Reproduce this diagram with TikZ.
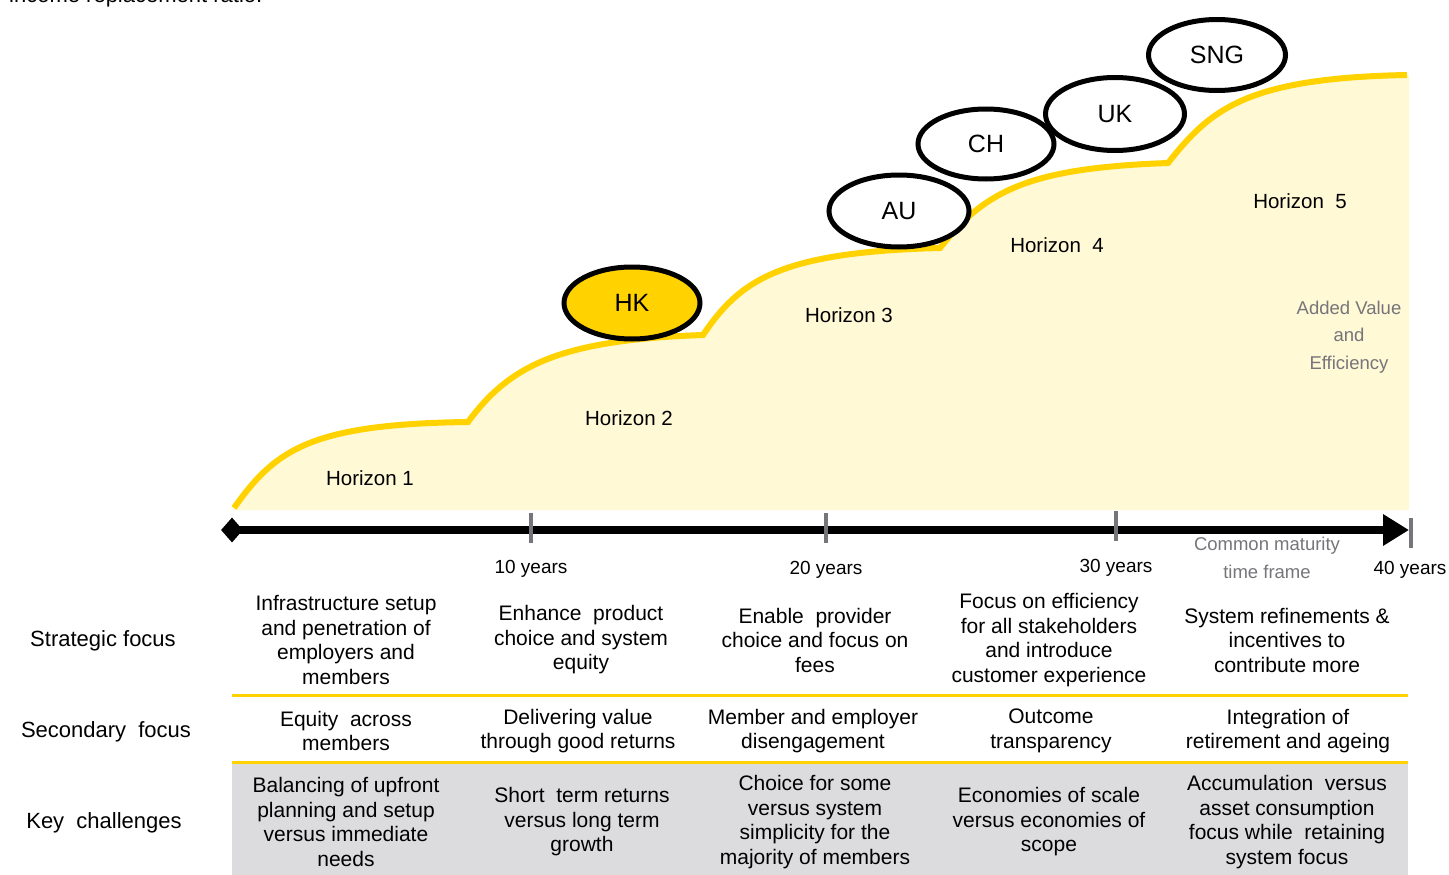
\documentclass[tikz,border=0pt]{standalone}
\usepackage{fontspec}
\setmainfont{Liberation Sans}
\usetikzlibrary{shapes.geometric,arrows.meta}
\definecolor{eyyel}{HTML}{FFD200}
\definecolor{lightyel}{HTML}{FFF9D6}
\definecolor{eygray}{HTML}{75757A}
\definecolor{tblgray}{HTML}{DCDCDE}
\newcommand\fsz[1]{\fontsize{#1}{24.5}\selectfont}
\newcommand\fszz[2]{\fontsize{#1}{#2}\selectfont}
\begin{document}
\begin{tikzpicture}[x=1pt,y=-1pt,
  cell/.style={align=center, inner sep=0, font=\fsz{21}},
  rowlab/.style={inner sep=0, font=\fsz{22}},
  hlab/.style={inner sep=0, font=\fsz{20.5}},
  tickmark/.style={draw=eygray, line width=4pt},
  yrs/.style={inner sep=0, font=\fsz{19}},
  country/.style={ellipse, draw=black, line width=5pt, fill=white, inner sep=0, font=\fsz{25}},
  graytxt/.style={inner sep=0, text=eygray, align=center},
  tblrule/.style={draw=eyyel, line width=3pt}]
\useasboundingbox (0,0) rectangle (1449,875);
\clip (0,0) rectangle (1449,875);

% cut-off caption at the top
\node[anchor=base west, inner sep=0, font=\fsz{22}] (cap) at (9,3) {income replacement ratio.};

% area under the curve
\fill[lightyel] (232,510) .. controls (275,450) and (310,424) .. (468,422)
  .. controls (510,365) and (560,340) .. (703,335)
  .. controls (740,280) and (780,252) .. (940,248)
  .. controls (985,190) and (1030,168) .. (1168,163)
  .. controls (1210,110) and (1245,78) .. (1407,75)
  -- (1409,75) -- (1409,510) -- cycle;
% curve
\draw[eyyel, line width=6pt] (234,508) .. controls (275,450) and (310,424) .. (468,422)
  .. controls (510,365) and (560,340) .. (703,335)
  .. controls (740,280) and (780,252) .. (940,248)
  .. controls (985,190) and (1030,168) .. (1168,163)
  .. controls (1210,110) and (1245,78) .. (1407,75);

% country ellipses
\node[country, fill=eyyel, minimum width=136pt, minimum height=72pt] (hk) at (632,303) {HK};
\node[country, minimum width=140pt, minimum height=72pt] (au) at (899,211) {AU};
\node[country, minimum width=136pt, minimum height=70pt] (ch) at (986,144) {CH};
\node[country, minimum width=139pt, minimum height=73pt] (uk) at (1115,114) {UK};
\node[country, minimum width=137pt, minimum height=71pt] (sng) at (1217,55) {SNG};

% horizon labels
\node[hlab] (h1) at (370,478) {Horizon 1};
\node[hlab] (h2) at (629,418) {Horizon 2};
\node[hlab] (h3) at (849,315) {Horizon 3};
\node[hlab] (h4) at (1057,245) {Horizon\ \ 4};
\node[hlab] (h5) at (1300,201) {Horizon\ \ 5};
\node[graytxt, font={\fszz{18.5}{27.5}}] (av) at (1349,337) {Added Value\\and\\Efficiency};

% time axis
\node[diamond, fill=black, inner sep=0, minimum width=22pt, minimum height=25pt] (start) at (232,530) {};
\coordinate (end) at (1409,530);
\draw[line width=8pt, -{Triangle[length=26pt,width=30pt]}] (start.center) -- (end);
\draw[tickmark] (531,513) -- (531,543);
\draw[tickmark] (826,513) -- (826,543);
\draw[tickmark] (1116,511) -- (1116,541);
\draw[tickmark] (1411,518) -- (1411,548);
\node[yrs] (y10) at (531,569) {10 years};
\node[yrs] (y20) at (826,570) {20 years};
\node[yrs] (y30) at (1116,568) {30 years};
\node[yrs] (y40) at (1410,570) {40 years};
\node[graytxt, font={\fszz{18.5}{28}}] (cm) at (1267,558) {Common maturity\\time frame};

% table background and rules
\fill[tblgray] (232,764) rectangle (1408,875);
\draw[tblrule] (232,695) -- (1408,695);
\draw[tblrule] (232,762) -- (1408,762);

% row labels
\node[rowlab] (rs) at (103,641) {Strategic focus};
\node[rowlab] (rsec) at (106,732) {Secondary\ \ focus};
\node[rowlab] (rk) at (104,823) {Key\ \ challenges};

% strategic focus
\node[cell] (s1) at (346,640) {Infrastructure setup\\and penetration of\\employers and\\members};
\node[cell] (s2) at (581,640) {Enhance\ \ product\\choice and system\\equity};
\node[cell] (s3) at (815,640) {Enable\ \ provider\\choice and focus on\\fees};
\node[cell] (s4) at (1049,640) {Focus on efficiency\\for all stakeholders\\and introduce\\customer experience};
\node[cell] (s5) at (1287,640) {System refinements \&\\incentives to\\contribute more};

% secondary focus
\node[cell] (c1) at (346,731) {Equity\ \ across\\members};
\node[cell] (c2) at (578,731) {Delivering value\\through good returns};
\node[cell] (c3) at (813,731) {Member and employer\\disengagement};
\node[cell] (c4) at (1051,731) {Outcome\\transparency};
\node[cell] (c5) at (1288,731) {Integration of\\retirement and ageing};

% key challenges
\node[cell] (k1) at (346,822) {Balancing of upfront\\planning and setup\\versus immediate\\needs};
\node[cell] (k2) at (582,822) {Short\ \ term returns\\versus long term\\growth};
\node[cell] (k3) at (815,822) {Choice for some\\versus system\\simplicity for the\\majority of members};
\node[cell] (k4) at (1049,822) {Economies of scale\\versus economies of\\scope};
\node[cell] (k5) at (1287,822) {Accumulation\ \ versus\\asset consumption\\focus while\ \ retaining\\system focus};
\end{tikzpicture}
\end{document}
